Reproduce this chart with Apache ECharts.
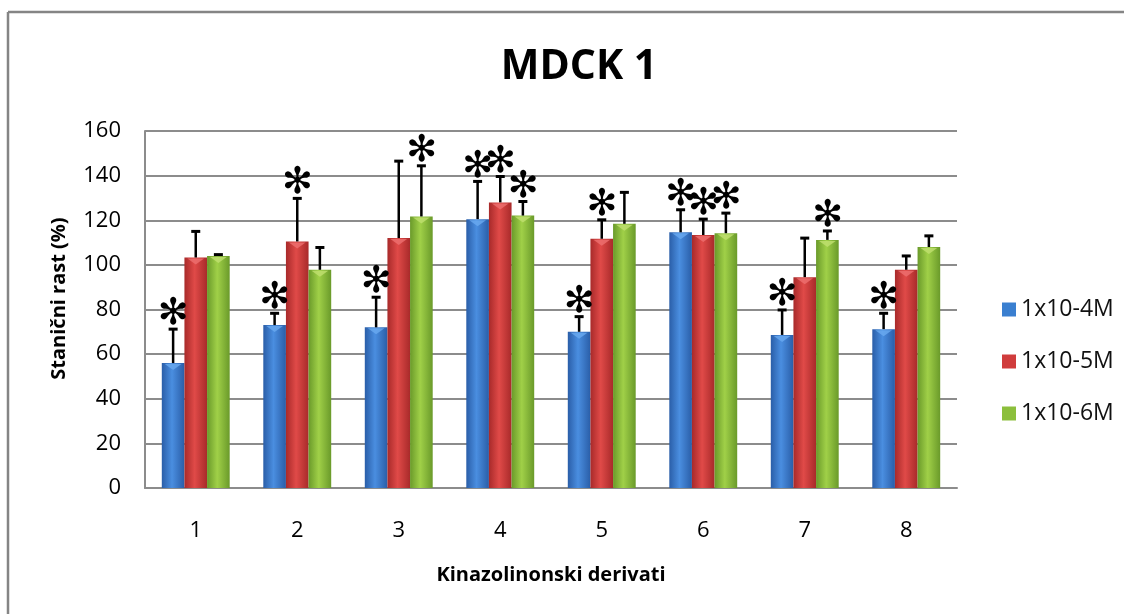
<!DOCTYPE html>
<html>
<head>
<meta charset="utf-8">
<script src="https://cdn.jsdelivr.net/npm/echarts@6/dist/echarts.min.js"></script>
<style>
  html, body { margin: 0; padding: 0; background: #fff; }
  #chart { width: 1124px; height: 614px; }
</style>
</head>
<body>
<div id="chart"></div>
<script>
// derivati 1..8
const categories = ['1', '2', '3', '4', '5', '6', '7', '8']
const seriesNames = ['1x10-4M', '1x10-5M', '1x10-6M']

// mean growth (%)
const mean4 = [56, 73, 72, 120.5, 70, 114.6, 68.6, 71.2]
const mean5 = [103.3, 110.5, 112, 128, 111.7, 113.4, 94.5, 97.8]
const mean6 = [104, 97.8, 121.7, 122.1, 118.4, 114.2, 111.2, 108]

// error bar (sd) above the bar
const sd4 = [15.2, 5.3, 13.5, 16.9, 6.8, 10.1, 11.2, 7.1]
const sd5 = [11.7, 19.3, 34.5, 11.6, 8.5, 7.1, 17.5, 6.2]
const sd6 = [0.6, 10, 22.7, 6.3, 14.1, 9, 4, 5]

// 1 = marked with asterisk
const sig4 = [1, 1, 1, 1, 1, 1, 1, 1]
const sig5 = [0, 1, 0, 1, 1, 1, 0, 0]
const sig6 = [0, 0, 1, 1, 0, 1, 1, 0]

const yTicks = { min: 0, max: 160, interval: 20 }

const BAR_RATIO = 0.223
const FONT = "'Open Sans', sans-serif"

function gradient(edge, mid) {
  return new echarts.graphic.LinearGradient(0, 0, 1, 0, [
    { offset: 0, color: edge },
    { offset: 0.45, color: mid },
    { offset: 1, color: edge }
  ])
}

// edge, middle, flat (legend), top bevel
const colors = [
  ['#2a5ea8', '#4a8ee0', '#3a7fd0', '#6aaaf0'],
  ['#a82a2a', '#e04a48', '#d03c3c', '#ee7070'],
  ['#6a9a2a', '#a0d048', '#8cbf3c', '#c0e070']
]

function errRender(pos) {
  return function (params, api) {
    const i = api.value(0)
    const base = api.coord([i, api.value(1)])
    const top = api.coord([i, api.value(1) + api.value(2)])
    const bw = api.size([1, 0])[0] * BAR_RATIO
    const x = base[0] + (pos - 1) * bw
    const children = [
      // little bevel triangle on top of the bar
      {
        type: 'polygon',
        shape: { points: [[x - bw / 2 + 3, base[1] + 1], [x + bw / 2 - 3, base[1] + 1], [x, base[1] + 7]] },
        style: { fill: colors[pos][3], opacity: 0.8 }
      },
      { type: 'line', shape: { x1: x, y1: base[1], x2: x, y2: top[1] }, style: { stroke: '#000', lineWidth: 2.5 } },
      { type: 'line', shape: { x1: x - 4.5, y1: top[1], x2: x + 4.5, y2: top[1] }, style: { stroke: '#000', lineWidth: 3 } }
    ]
    if (api.value(3)) {
      children.push({
        type: 'text',
        x: x,
        y: top[1] + 4,
        style: { text: '\u273B', fontSize: 37, fontFamily: 'DejaVu Sans', fill: '#000', align: 'center', verticalAlign: 'bottom' }
      })
    }
    return { type: 'group', children: children }
  }
}

function errData(means, sds, sigs) {
  return means.map((m, i) => [i, m, sds[i], sigs[i]])
}

const means = [mean4, mean5, mean6]
const sds = [sd4, sd5, sd6]
const sigs = [sig4, sig5, sig6]

const barSeries = seriesNames.map((name, k) => ({
  name: name,
  type: 'bar',
  data: means[k],
  barWidth: (BAR_RATIO * 100) + '%',
  barGap: '0%',
  itemStyle: { color: gradient(colors[k][0], colors[k][1]) },
  emphasis: { disabled: true }
}))

const errSeries = seriesNames.map((name, k) => ({
  name: name + ' err',
  type: 'custom',
  renderItem: errRender(k),
  data: errData(means[k], sds[k], sigs[k]),
  encode: { x: 0, y: 1 },
  z: 5,
  silent: true
}))

const chart = echarts.init(document.getElementById('chart'))

// frame of the chart area (only top and left edges are in view)
const frameStyle = { stroke: '#858585', lineWidth: 2.5 }

chart.setOption({
  animation: false,
  backgroundColor: '#fff',
  title: {
    text: 'MDCK 1',
    left: 574,
    top: 42,
    textAlign: 'center',
    textStyle: { fontFamily: FONT, fontSize: 41, fontWeight: 'bold', color: '#000' }
  },
  graphic: [
    { type: 'line', shape: { x1: 8, y1: 12, x2: 1124, y2: 12 }, style: frameStyle, silent: true },
    { type: 'line', shape: { x1: 8, y1: 12, x2: 8, y2: 614 }, style: frameStyle, silent: true }
  ],
  legend: {
    data: seriesNames.map((n, k) => ({ name: n, itemStyle: { color: colors[k][2] } })),
    orient: 'vertical',
    left: 997,
    top: 293,
    itemWidth: 14,
    itemHeight: 14,
    itemGap: 29,
    icon: 'rect',
    textStyle: { fontFamily: FONT, fontSize: 23, color: '#111' }
  },
  grid: { left: 145, right: 167, top: 131, bottom: 126 },
  xAxis: {
    type: 'category',
    data: categories,
    name: 'Kinazolinonski derivati',
    nameLocation: 'middle',
    nameGap: 77,
    nameTextStyle: { fontFamily: FONT, fontSize: 20, fontWeight: 'bold', color: '#000' },
    axisLine: { lineStyle: { color: '#8c8c8c', width: 2 } },
    axisTick: { show: false },
    axisLabel: { fontFamily: FONT, fontSize: 22, color: '#000', margin: 32 }
  },
  yAxis: {
    type: 'value',
    min: yTicks.min,
    max: yTicks.max,
    interval: yTicks.interval,
    name: 'Stanični rast (%)',
    nameLocation: 'middle',
    nameGap: 76,
    nameTextStyle: { fontFamily: FONT, fontSize: 20, fontWeight: 'bold', color: '#000', padding: [0, 0, 0, 22] },
    axisLine: { show: true, lineStyle: { color: '#8c8c8c', width: 2 } },
    axisTick: { show: false },
    splitLine: { lineStyle: { color: '#8c8c8c', width: 2 } },
    axisLabel: { fontFamily: FONT, fontSize: 22, color: '#000', margin: 24 }
  },
  series: barSeries.concat(errSeries)
})
</script>
</body>
</html>
